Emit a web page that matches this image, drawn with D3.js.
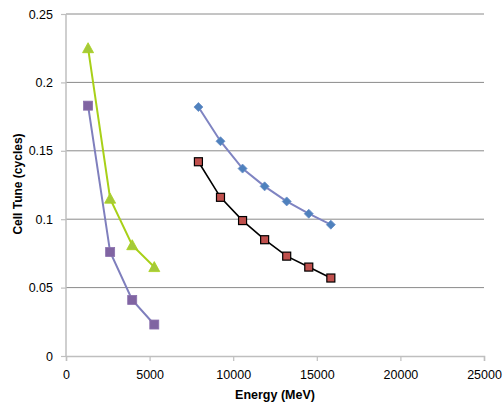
<!DOCTYPE html>
<html><head><meta charset="utf-8">
<script src="https://cdn.jsdelivr.net/npm/d3@7"></script>
<style>body{margin:0;background:#fff;} svg{display:block;}</style>
</head><body>
<svg id="c" width="503" height="409"></svg>
<script>
const xTicks = [0, 5000, 10000, 15000, 20000, 25000];
const yTicks = [0, 0.05, 0.1, 0.15, 0.2, 0.25];
const yTickLabels = ["0", "0.05", "0.1", "0.15", "0.2", "0.25"];
const lowEnergy = [1320, 2640, 3960, 5280];
const greenTune = [0.225, 0.115, 0.081, 0.065];
const purpleTune = [0.183, 0.076, 0.041, 0.023];
const highEnergy = [7920, 9240, 10560, 11880, 13200, 14520, 15840];
const blueTune = [0.182, 0.157, 0.137, 0.124, 0.113, 0.104, 0.096];
const redTune = [0.142, 0.116, 0.099, 0.085, 0.073, 0.065, 0.057];
const xTitle = "Energy (MeV)";
const yTitle = "Cell Tune (cycles)";

const svg = d3.select("#c");
const L = 66, R = 484, T = 14, B = 356;
const x = d3.scaleLinear().domain([0, 25000]).range([L, R]);
const y = d3.scaleLinear().domain([0, 0.25]).range([B, T]);
const font = "'Liberation Sans', Arial, sans-serif";

// gridlines
svg.append("g").selectAll("line").data(yTicks.slice(1)).join("line")
  .attr("x1", L).attr("x2", R).attr("y1", d => y(d)).attr("y2", d => y(d))
  .attr("stroke", "#8a8a8a").attr("stroke-width", 1);

// axes
const xa = svg.append("g").attr("transform", `translate(0,${B})`)
  .call(d3.axisBottom(x).tickValues(xTicks).tickFormat(d3.format("d")).tickSize(5).tickPadding(9));
const ya = svg.append("g").attr("transform", `translate(${L},0)`)
  .call(d3.axisLeft(y).tickValues(yTicks).tickFormat((d, i) => yTickLabels[i]).tickSize(5).tickPadding(8));
[xa, ya].forEach(a => {
  a.select(".domain").attr("stroke", "#bfbfbf").attr("stroke-width", 1.5);
  a.selectAll(".tick line").attr("stroke", "#bfbfbf").attr("stroke-width", 1.2);
  a.selectAll("text").attr("font-family", font).attr("font-size", 12.5).attr("fill", "#000");
});
ya.select(".domain").attr("d", `M0,${T}V${B}`);

// titles
svg.append("text").attr("x", (L + R) / 2).attr("y", 399).attr("text-anchor", "middle")
  .attr("font-family", font).attr("font-weight", "bold").attr("font-size", 12.5).text(xTitle);
svg.append("text").attr("transform", `translate(22,${(T + B) / 2 - 1}) rotate(-90)`).attr("text-anchor", "middle")
  .attr("font-family", font).attr("font-weight", "bold").attr("font-size", 12).text(yTitle);

const line = d3.line().x(d => x(d[0])).y(d => y(d[1]));
function series(xs, ys, lineColor, lw, marker) {
  const pts = xs.map((v, i) => [v, ys[i]]);
  svg.append("path").datum(pts).attr("d", line).attr("fill", "none")
    .attr("stroke", lineColor).attr("stroke-width", lw);
  const g = svg.append("g");
  pts.forEach(p => marker(g, x(p[0]), y(p[1])));
}

series(highEnergy, blueTune, "#7f84c2", 2, (g, cx, cy) => {
  g.append("path").attr("d", `M${cx},${cy - 4.5}L${cx + 4.5},${cy}L${cx},${cy + 4.5}L${cx - 4.5},${cy}Z`)
    .attr("fill", "#4f81bd").attr("stroke", "#6a8fc8").attr("stroke-width", 0.8);
});
series(highEnergy, redTune, "#000", 1.6, (g, cx, cy) => {
  g.append("rect").attr("x", cx - 4).attr("y", cy - 4).attr("width", 8).attr("height", 8)
    .attr("fill", "#c0504d").attr("stroke", "#000").attr("stroke-width", 1.2);
});
series(lowEnergy, greenTune, "#a8d018", 2, (g, cx, cy) => {
  g.append("path").attr("d", `M${cx},${cy - 5.5}L${cx + 5.5},${cy + 4.5}L${cx - 5.5},${cy + 4.5}Z`)
    .attr("fill", "#a5c93a").attr("stroke", "#a8d018").attr("stroke-width", 0.8);
});
series(lowEnergy, purpleTune, "#7f7fbd", 2, (g, cx, cy) => {
  g.append("rect").attr("x", cx - 4.5).attr("y", cy - 4.5).attr("width", 9).attr("height", 9)
    .attr("fill", "#8064a2").attr("stroke", "#8a70ad").attr("stroke-width", 0.8);
});
</script>
</body></html>
